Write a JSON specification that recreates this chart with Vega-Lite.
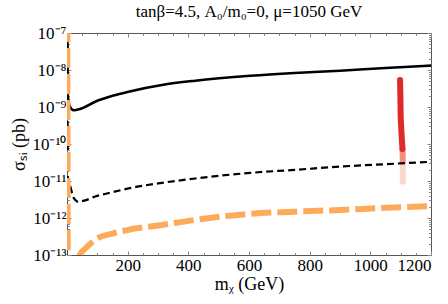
{
  "$schema": "https://vega.github.io/schema/vega-lite/v6.json",
  "width": 364,
  "height": 222,
  "autosize": {"type": "none"},
  "padding": {"left": 67, "top": 33, "right": 17, "bottom": 49},
  "title": {"text": "tanβ=4.5, A₀/m₀=0, μ=1050 GeV", "font": "Liberation Serif", "fontSize": 17, "fontWeight": "normal", "anchor": "middle", "color": "black", "offset": 3},
  "config": {
    "font": "Liberation Serif",
    "view": {"stroke": "#555", "strokeWidth": 1},
    "axis": {"domain": false, "grid": false, "tickColor": "#888", "labelColor": "black", "labelFont": "Liberation Serif", "labelFontSize": 17, "titleFont": "Liberation Serif", "titleFontSize": 18, "titleFontWeight": "normal", "titleColor": "black"}
  },
  "datasets": {
    "solid": [
      {"m": 1, "s": 2e-7}, {"m": 2, "s": 2.4e-9}, {"m": 9, "s": 1.05e-9}, {"m": 22, "s": 8.2e-10},
      {"m": 45, "s": 9.0e-10}, {"m": 93, "s": 1.39e-9}, {"m": 150, "s": 2.0e-9}, {"m": 203, "s": 2.6e-9},
      {"m": 313, "s": 3.94e-9}, {"m": 423, "s": 5.14e-9}, {"m": 605, "s": 6.97e-9}, {"m": 750, "s": 8.3e-9},
      {"m": 900, "s": 9.57e-9}, {"m": 1050, "s": 1.13e-8}, {"m": 1200, "s": 1.31e-8}
    ],
    "dashed": [
      {"m": 1, "s": 2e-7}, {"m": 3, "s": 1.0e-11}, {"m": 11, "s": 7e-12}, {"m": 22, "s": 3.5e-12},
      {"m": 38, "s": 2.75e-12}, {"m": 60, "s": 3.0e-12}, {"m": 93, "s": 3.8e-12}, {"m": 150, "s": 5.0e-12},
      {"m": 203, "s": 6.3e-12}, {"m": 313, "s": 8.9e-12}, {"m": 423, "s": 1.17e-11}, {"m": 605, "s": 1.66e-11},
      {"m": 750, "s": 2.0e-11}, {"m": 900, "s": 2.45e-11}, {"m": 1050, "s": 2.85e-11}, {"m": 1200, "s": 3.3e-11}
    ],
    "orange": [
      {"m": 1, "s": 2e-7}, {"m": 3, "s": 5e-14}, {"m": 32, "s": 7e-14}, {"m": 45, "s": 1.1e-13},
      {"m": 66, "s": 1.66e-13}, {"m": 93, "s": 2.6e-13}, {"m": 150, "s": 3.8e-13}, {"m": 203, "s": 4.8e-13},
      {"m": 313, "s": 6.5e-13}, {"m": 423, "s": 8.9e-13}, {"m": 605, "s": 1.3e-12}, {"m": 750, "s": 1.48e-12},
      {"m": 900, "s": 1.65e-12}, {"m": 1050, "s": 1.88e-12}, {"m": 1200, "s": 2.1e-12}
    ],
    "red": [
      {"m": 1107, "s": 3.3e-11, "shade": "light"}, {"m": 1107, "s": 9.5e-12, "shade": "light"},
      {"m": 1106, "s": 7.3e-11, "shade": "mid"}, {"m": 1107, "s": 3.3e-11, "shade": "mid"},
      {"m": 1098, "s": 5.4e-9, "shade": "dark"}, {"m": 1099, "s": 2e-9, "shade": "dark"},
      {"m": 1100, "s": 5.5e-10, "shade": "dark"}, {"m": 1103, "s": 1.8e-10, "shade": "dark"},
      {"m": 1106, "s": 7.3e-11, "shade": "dark"}
    ]
  },
  "resolve": {"axis": {"x": "independent", "y": "independent"}},
  "layer": [
    {
      "data": {"name": "red"},
      "mark": {"type": "line", "strokeWidth": 6, "strokeCap": "round", "clip": true},
      "encoding": {
        "x": {"field": "m", "type": "quantitative", "scale": {"domain": [0, 1200], "nice": false},
              "axis": {"orient": "top", "values": [200, 400, 600, 800, 1000, 1200], "labels": false, "tickSize": -4, "title": null}},
        "y": {"field": "s", "type": "quantitative", "scale": {"type": "log", "domain": [1e-13, 1e-7], "nice": false},
              "axis": {"orient": "right", "values": [1e-13, 1e-12, 1e-11, 1e-10, 1e-9, 1e-8, 1e-7], "labels": false, "tickSize": -4, "title": null}},
        "color": {"field": "shade", "type": "nominal", "scale": {"domain": ["light", "mid", "dark"], "range": ["#f9d8d0", "#f28f7c", "#dc2b29"]}, "legend": null},
        "order": {"field": "m"}
      }
    },
    {
      "data": {"name": "dashed"},
      "mark": {"type": "line", "color": "black", "strokeWidth": 2.2, "strokeDash": [7, 4], "interpolate": "monotone", "clip": true},
      "encoding": {
        "x": {"field": "m", "type": "quantitative",
              "axis": {"orient": "top", "values": [50, 100, 150, 250, 300, 350, 450, 500, 550, 650, 700, 750, 850, 900, 950, 1050, 1100, 1150], "labels": false, "tickSize": -2.5, "title": null}},
        "y": {"field": "s", "type": "quantitative",
              "axis": {"orient": "right", "values": [2e-13, 3e-13, 4e-13, 5e-13, 6e-13, 7e-13, 8e-13, 9e-13, 2e-12, 3e-12, 4e-12, 5e-12, 6e-12, 7e-12, 8e-12, 9e-12, 2e-11, 3e-11, 4e-11, 5e-11, 6e-11, 7e-11, 8e-11, 9e-11, 2e-10, 3e-10, 4e-10, 5e-10, 6e-10, 7e-10, 8e-10, 9e-10, 2e-9, 3e-9, 4e-9, 5e-9, 6e-9, 7e-9, 8e-9, 9e-9, 2e-8, 3e-8, 4e-8, 5e-8, 6e-8, 7e-8, 8e-8, 9e-8], "labels": false, "tickSize": -2.5, "title": null}}
      }
    },
    {
      "data": {"name": "solid"},
      "mark": {"type": "line", "color": "black", "strokeWidth": 2.6, "interpolate": "monotone", "clip": true},
      "encoding": {
        "x": {"field": "m", "type": "quantitative",
              "axis": {"orient": "bottom", "values": [200, 400, 600, 800, 1000, 1200], "format": "d", "tickSize": -4, "labelPadding": 6, "labelFont": "Liberation Serif", "labelFontSize": 17, "title": "mᵪ (GeV)", "titlePadding": 2}},
        "y": {"field": "s", "type": "quantitative",
              "axis": {"orient": "left", "values": [1e-13, 1e-12, 1e-11, 1e-10, 1e-9, 1e-8, 1e-7], "tickSize": -4, "labelPadding": 5, "labelFont": "Liberation Serif", "labelFontSize": 17,
                       "labelExpr": "'10⁻' + (abs(round(log(datum.value)/LN10)) >= 10 ? '¹' + substring('⁰¹²³⁴⁵⁶⁷⁸⁹', abs(round(log(datum.value)/LN10)) - 10, abs(round(log(datum.value)/LN10)) - 9) : substring('⁰¹²³⁴⁵⁶⁷⁸⁹', abs(round(log(datum.value)/LN10)), abs(round(log(datum.value)/LN10)) + 1))",
                       "title": "σₛᵢ (pb)", "titlePadding": 3}}
      }
    },
    {
      "data": {"name": "orange"},
      "mark": {"type": "line", "color": "#fdab5a", "strokeWidth": 6, "strokeDash": [20, 6], "interpolate": "monotone", "clip": true},
      "encoding": {
        "x": {"field": "m", "type": "quantitative",
              "axis": {"orient": "bottom", "values": [50, 100, 150, 250, 300, 350, 450, 500, 550, 650, 700, 750, 850, 900, 950, 1050, 1100, 1150], "labels": false, "tickSize": -2.5, "title": null}},
        "y": {"field": "s", "type": "quantitative",
              "axis": {"orient": "left", "values": [2e-13, 3e-13, 4e-13, 5e-13, 6e-13, 7e-13, 8e-13, 9e-13, 2e-12, 3e-12, 4e-12, 5e-12, 6e-12, 7e-12, 8e-12, 9e-12, 2e-11, 3e-11, 4e-11, 5e-11, 6e-11, 7e-11, 8e-11, 9e-11, 2e-10, 3e-10, 4e-10, 5e-10, 6e-10, 7e-10, 8e-10, 9e-10, 2e-9, 3e-9, 4e-9, 5e-9, 6e-9, 7e-9, 8e-9, 9e-9, 2e-8, 3e-8, 4e-8, 5e-8, 6e-8, 7e-8, 8e-8, 9e-8], "labels": false, "tickSize": -2.5, "title": null}}
      }
    }
  ]
}
